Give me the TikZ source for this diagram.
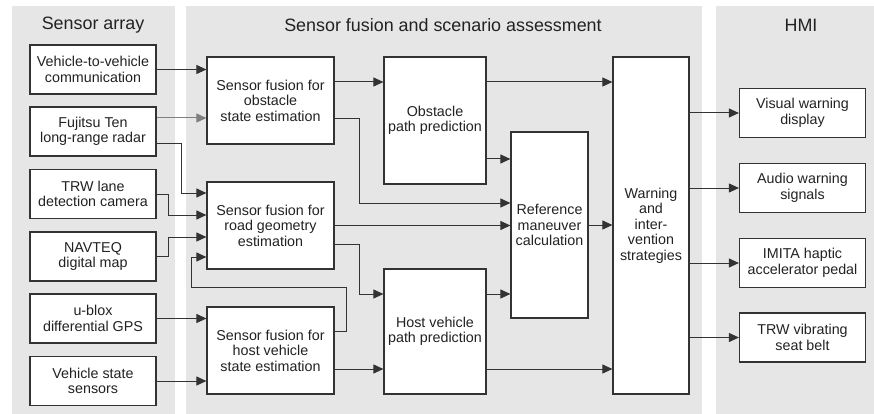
\documentclass[tikz,border=0pt]{standalone}
\usepackage{fontspec}
\setmainfont{Liberation Sans}
\usetikzlibrary{arrows.meta, positioning}

\definecolor{panelgray}{HTML}{E6E6E6}
\definecolor{linegray}{HTML}{333333}
\definecolor{textgray}{HTML}{222222}

\tikzstyle{arrow} = [line width=1pt, draw=linegray, -{Triangle[length=10pt,width=9pt]}]
\tikzstyle{block} = [draw=linegray, line width=1.2pt, fill=white, rectangle, inner sep=0pt, align=center, text=textgray, font=\fontsize{14.3}{15.5}\selectfont]
\tikzstyle{sensor} = [block, minimum width=126pt, minimum height=49pt]
\tikzstyle{fusion} = [block, minimum width=127pt, minimum height=87pt]
\tikzstyle{panel} = [fill=panelgray]
\tikzstyle{title} = [text=textgray, font=\fontsize{17.9}{20}\selectfont]

\begin{document}
\begin{tikzpicture}[x=1pt, y=-1pt]
        \useasboundingbox (0,0) rectangle (874,414);

        % background panels
        \fill[panel] (12,6) rectangle (175,414);
        \fill[panel] (186,6) rectangle (702,414);
        \fill[panel] (716,6) rectangle (874,414);

        \node[title] (tsens) at (93,25) {Sensor array};
        \node[title] (tfus) at (443,25) {Sensor fusion and scenario assessment};
        \node[title] (thmi) at (801,25) {HMI};

        % sensor array
        \node[sensor] (v2v) at (93,69.5) {Vehicle-to-vehicle\\communication};
        \node[sensor] (fuj) at (93,131.5) {Fujitsu Ten\\long-range radar};
        \node[sensor] (trw) at (93,194) {TRW lane\\detection camera};
        \node[sensor] (nav) at (93,256.5) {NAVTEQ\\digital map};
        \node[sensor] (ubx) at (93,318.5) {u-blox\\differential GPS};
        \node[sensor] (vss) at (93,381) {Vehicle state\\sensors};

        % sensor fusion
        \node[fusion] (fobs) at (270.5,100.5) {Sensor fusion for\\obstacle\\state estimation};
        \node[fusion] (froad) at (270.5,225.5) {Sensor fusion for\\road geometry\\estimation};
        \node[fusion] (fhost) at (270.5,350.5) {Sensor fusion for\\host vehicle\\state estimation};

        \node[block, minimum width=102pt, minimum height=127pt] (opath) at (435,120.5) {Obstacle\\path prediction};
        \node[block, minimum width=102pt, minimum height=125pt] (hpath) at (435,331.5) {Host vehicle\\path prediction};
        \node[block, minimum width=77pt, minimum height=186pt] (ref) at (549.5,225) {Reference\\maneuver\\calculation};
        \node[block, minimum width=76pt, minimum height=337pt] (warn) at (651,225.5) {Warning\\and\\inter-\\vention\\strategies};

        % HMI
        \node[sensor] (vis) at (802.5,113) {Visual warning\\display};
        \node[sensor] (aud) at (802.5,188) {Audio warning\\signals};
        \node[sensor] (imi) at (802.5,263) {IMITA haptic\\accelerator pedal};
        \node[sensor] (belt) at (802.5,337.5) {TRW vibrating\\seat belt};

        % sensors to fusion
        \draw[arrow] (v2v.east) -- (v2v.east -| fobs.west);
        \draw[arrow, draw=gray] ([yshift=13.5pt]fuj.east) -- ([yshift=13.5pt]fuj.east -| fobs.west);
        \draw[arrow] ([yshift=-12.5pt]fuj.east) -- ++(25,0) |- ([yshift=32.5pt]froad.west);
        \draw[arrow] (trw.east) -- ++(12,0) |- ([yshift=10.5pt]froad.west);
        \draw[arrow] (nav.east) -- ++(12,0) |- ([yshift=-11.5pt]froad.west);
        \draw[arrow] ([yshift=19.5pt]fhost.east) -- ++(12,0) -- ++(0,-44) -- ++(-155,0) |- ([yshift=-31.5pt]froad.west);
        \draw[arrow] (ubx.east) -- (ubx.east -| fhost.west);
        \draw[arrow] (vss.east) -- ([yshift=-30.5pt]fhost.west);

        % fusion to prediction
        \draw[arrow] ([yshift=18.5pt]fobs.east) -- ([yshift=18.5pt]fobs.east -| opath.west);
        \draw[arrow] ([yshift=-18.5pt]fobs.east) -- ++(25,0) |- ([yshift=22pt]ref.west);
        \draw[arrow] (froad.east) -- (froad.east -| ref.west);
        \draw[arrow] ([yshift=-18.5pt]froad.east) -- ++(25,0) |- ([yshift=37.5pt]hpath.west);
        \draw[arrow] ([yshift=-18.5pt]fhost.east) -- ([yshift=-18.5pt]fhost.east -| hpath.west);

        \draw[arrow] ([yshift=38.5pt]opath.east) -- ([yshift=38.5pt]opath.east -| warn.west);
        \draw[arrow] ([yshift=-38.5pt]opath.east) -- ([yshift=-38.5pt]opath.east -| ref.west);
        \draw[arrow] ([yshift=37.5pt]hpath.east) -- ([yshift=37.5pt]hpath.east -| ref.west);
        \draw[arrow] ([yshift=-37.5pt]hpath.east) -- ([yshift=-37.5pt]hpath.east -| warn.west);
        \draw[arrow] (ref.east) -- (ref.east -| warn.west);

        % warnings to HMI
        \draw[arrow] (warn.east |- vis.west) -- (vis.west);
        \draw[arrow] (warn.east |- aud.west) -- (aud.west);
        \draw[arrow] (warn.east |- imi.west) -- (imi.west);
        \draw[arrow] (warn.east |- belt.west) -- (belt.west);
    \end{tikzpicture}
\end{document}
